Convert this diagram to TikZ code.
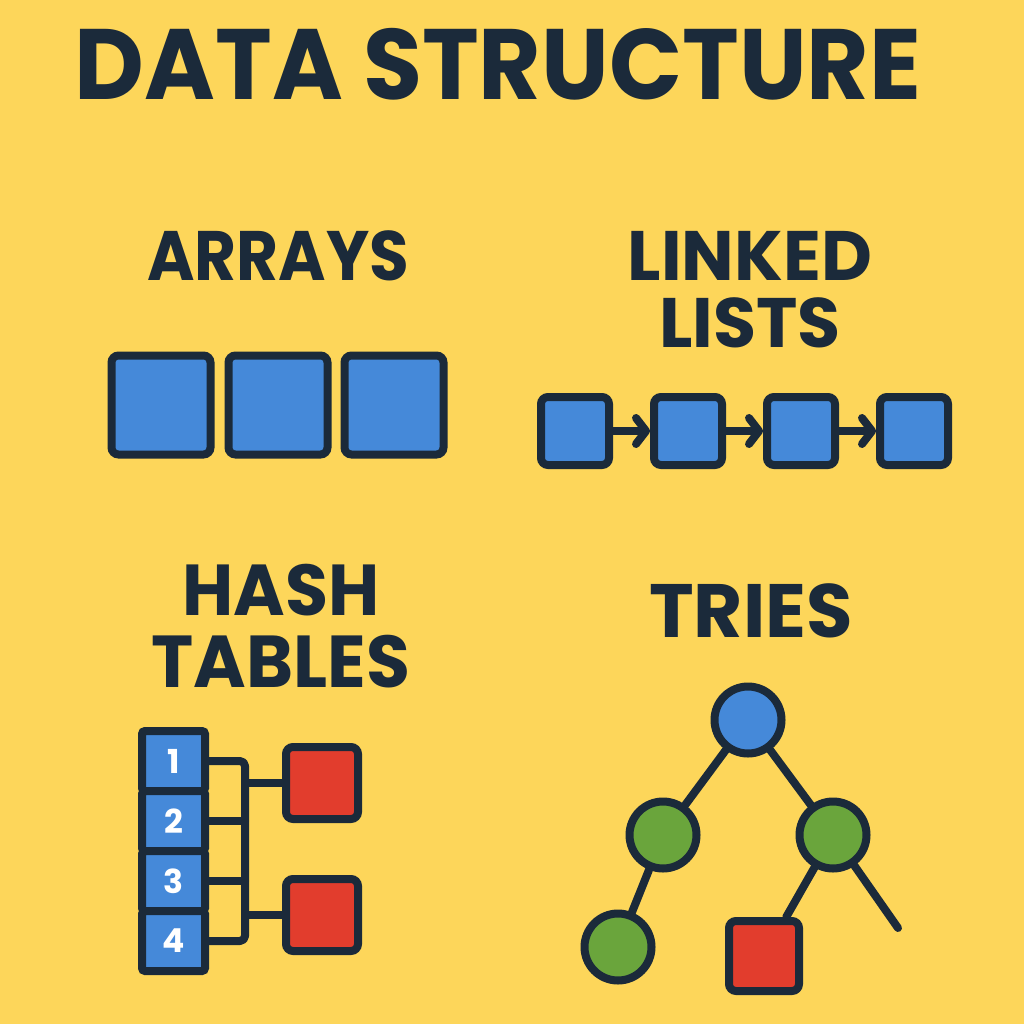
\documentclass[tikz,border=0pt]{standalone}
\usepackage{fontspec}
\newfontfamily\popfont{Poppins}
\usetikzlibrary{arrows.meta,positioning}
\definecolor{bg}{HTML}{FDD65A}
\definecolor{ink}{HTML}{1B2A3A}
\definecolor{cellblue}{HTML}{4589D9}
\definecolor{leafgreen}{HTML}{6AA53C}
\definecolor{boxred}{HTML}{E23D2D}
\tikzset{
  title/.style={text=ink, font=\popfont\bfseries\fontsize{100}{100}\selectfont, anchor=base},
  head/.style={text=ink, font=\popfont\bfseries\fontsize{70}{70}\selectfont, anchor=base},
  box/.style={draw=ink, line width=8pt, rounded corners=7pt, inner sep=0pt},
  arr/.style={box, fill=cellblue, minimum size=99pt},
  llbox/.style={box, fill=cellblue, minimum size=68pt},
  hcell/.style={box, fill=cellblue, rounded corners=3pt, outer sep=0pt,
    minimum width=63pt, minimum height=60pt, text=white,
    font=\popfont\bfseries\fontsize{33}{33}\selectfont},
  redbox/.style={box, fill=boxred, minimum size=72pt},
  tnode/.style={circle, draw=ink, line width=8pt, minimum size=67pt, inner sep=0pt},
  wire/.style={draw=ink, line width=8pt, line cap=round, line join=round},
  link/.style={wire, -{Straight Barb[length=10pt,width=26pt,round]}},
}
\begin{document}
\begin{tikzpicture}[x=1pt,y=-1pt]
  \fill[bg] (0,0) rectangle (1024,1024);
  \useasboundingbox (0,0) rectangle (1024,1024);
  % headings
  \node[title,xscale=0.96] (ttl) at (498,100) {DATA STRUCTURE};
  \node[head,xscale=0.92] (harr) at (278,280) {ARRAYS};
  \node[head] (hll1) at (750,280) {LINKED};
  \node[head] (hll2) at (750,347) {LISTS};
  \node[head,yscale=1.03] (hht1) at (281,615) {HASH};
  \node[head,yscale=1.05,xscale=1.02] (hht2) at (281,687) {TABLES};
  \node[head,scale=1.08] (htr) at (751,637) {TRIES};
  % arrays
  \foreach \i/\x in {1/161,2/278,3/394}
    \node[arr] (a\i) at (\x,405) {};
  % linked lists
  \foreach \i/\x in {1/575,2/688,3/801,4/914}
    \node[llbox] (l\i) at (\x,431) {};
  \foreach \i/\j in {1/2,2/3,3/4}
    \draw[link] (l\i) -- (l\j);
  % hash tables
  \node[hcell] (h1) at (173.5,761) {1};
  \node[hcell,below=0pt of h1] (h2) {2};
  \node[hcell,below=0pt of h2] (h3) {3};
  \node[hcell,below=0pt of h3] (h4) {4};
  \coordinate (bus) at (245,0);
  \node[redbox] (r1) at (322,783) {};
  \node[redbox] (r2) at (322,915) {};
  \draw[wire,rounded corners=5pt] (h1.east) -| (h4.east -| bus) -- (h4.east);
  \foreach \i in {2,3}
    \draw[wire] (h\i.east) -- (h\i.east -| bus);
  \foreach \i in {1,2}
    \draw[wire] (r\i.west -| bus) -- (r\i.west);
  % tries
  \node[tnode,fill=cellblue] (root) at (748,720) {};
  \node[tnode,fill=leafgreen] (tl) at (663,835) {};
  \node[tnode,fill=leafgreen] (tr) at (833,835) {};
  \node[tnode,fill=leafgreen] (tll) at (618,947) {};
  \node[redbox,minimum size=70pt] (trr) at (764,956) {};
  \coordinate (tend) at (898,928);
  \draw[wire] (root) -- (tl);
  \draw[wire] (root) -- (tr);
  \draw[wire] (tl) -- (tll);
  \draw[wire] (tr) -- (trr);
  \draw[wire] (tr) -- (tend);
\end{tikzpicture}
\end{document}
